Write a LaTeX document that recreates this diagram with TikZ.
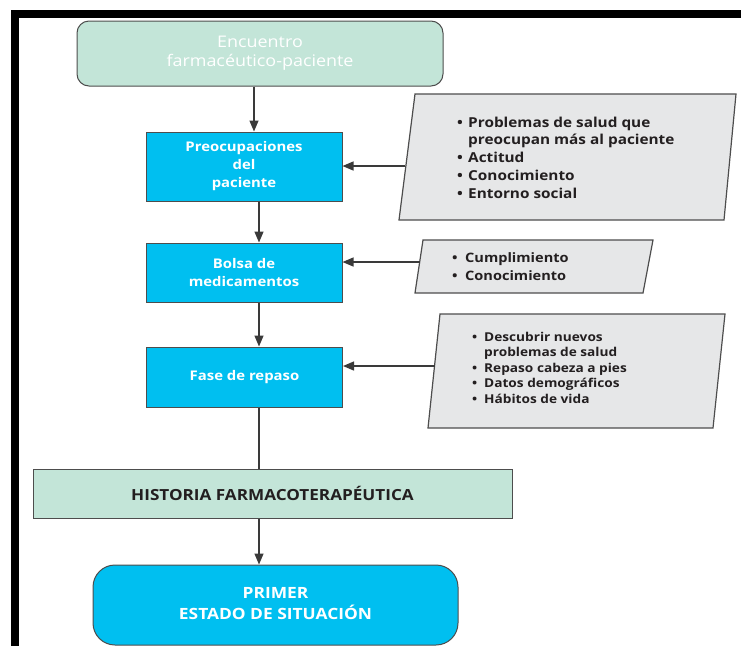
\documentclass[tikz,border=0pt]{standalone}
\usepackage{fontspec}
\setmainfont{Open Sans}[FakeStretch=1.12]
\usetikzlibrary{arrows.meta}
\definecolor{cyanfill}{HTML}{00BFF0}
\definecolor{greenfill}{HTML}{C3E5D8}
\definecolor{parafill}{HTML}{E6E7E8}
\definecolor{edgec}{HTML}{4D4D4D}
\definecolor{darktext}{HTML}{231F20}
\definecolor{arrowc}{HTML}{3A3A3A}
\newcommand{\bul}[1]{\makebox[#1][l]{\textbullet}}
\begin{document}
\begin{tikzpicture}[x=1pt,y=-1pt,
  procbox/.style={draw=edgec,line width=1pt,fill=cyanfill,text=white,inner sep=0pt,
    font=\bfseries\fontsize{13.3}{18}\selectfont,align=center,minimum width=196pt},
  greenround/.style={draw=edgec,line width=1pt,fill=greenfill,text=white,inner sep=0pt,
    rounded corners=12pt,font=\fontsize{16}{19}\selectfont,align=center},
  greenrect/.style={draw=edgec,line width=1pt,fill=greenfill,text=darktext,inner sep=0pt,
    font=\bfseries\fontsize{15.3}{19}\selectfont,align=center},
  cyanround/.style={draw=edgec,line width=1pt,fill=cyanfill,text=white,inner sep=0pt,
    rounded corners=22pt,font=\bfseries\fontsize{15.5}{20}\selectfont,align=center},
  para/.style={draw=edgec,line width=1.2pt,fill=parafill},
  listtext/.style={inner sep=0pt,anchor=base west,text=darktext},
  arr/.style={draw=arrowc,line width=1.3pt,-{Triangle[length=11pt,width=9pt]}},
  plain/.style={draw=arrowc,line width=1.3pt}]
\useasboundingbox (0,0) rectangle (741,646);
% frame
\fill[black] (11,10) rectangle (741,18);
\fill[black] (11,10) rectangle (19,646);
% main boxes
\node[greenround,minimum width=366pt,minimum height=65pt] (enc) at (260,53.5)
  {Encuentro\\farmacéutico-paciente};
\node[procbox,minimum height=69pt] (pre) at (244,166.5) {Preocupaciones\\del\\paciente};
\node[procbox,minimum height=59pt] (bol) at (244,272.5) {Bolsa de\\medicamentos};
\node[procbox,minimum height=60pt] (fas) at (244.5,377) {Fase de repaso};
\node[greenrect,minimum width=479pt,minimum height=49pt] (his) at (272.5,493.5)
  {HISTORIA FARMACOTERAPÉUTICA};
\node[cyanround,minimum width=365pt,minimum height=80pt] (pri) at (275.5,605)
  {\raisebox{-5pt}{\begin{tabular}{@{}c@{}}PRIMER\\ESTADO DE SITUACIÓN\end{tabular}}};
% parallelograms
\draw[para] (415,94) -- (736,94) -- (724,220) -- (399,220) -- cycle;
\draw[para] (423,240) -- (653,240) -- (643,293) -- (415,293) -- cycle;
\draw[para] (440,314) -- (725,314) -- (713,428) -- (428,428) -- cycle;
\node[listtext,font=\bfseries\fontsize{13.7}{17.8}\selectfont] (l1) at (457,127)
  {\begin{tabular}[t]{@{}l@{}l@{}}
   \bul{11pt} & Problemas de salud que\\
   & preocupan más al paciente\\
   \bul{11pt} & Actitud\\
   \bul{11pt} & Conocimiento\\
   \bul{11pt} & Entorno social
   \end{tabular}};
\node[listtext,font=\bfseries\fontsize{13}{18.3}\selectfont] (l2) at (452,262.5)
  {\begin{tabular}[t]{@{}l@{}l@{}}
   \bul{13pt} & Cumplimiento\\
   \bul{13pt} & Conocimiento
   \end{tabular}};
\node[listtext,font=\bfseries\fontsize{12.2}{15.4}\selectfont] (l3) at (472,341.5)
  {\begin{tabular}[t]{@{}l@{}l@{}}
   \bul{12pt} & Descubrir nuevos\\
   & problemas de salud\\
   \bul{12pt} & Repaso cabeza a pies\\
   \bul{12pt} & Datos demográficos\\
   \bul{12pt} & Hábitos de vida
   \end{tabular}};
% connector anchors
\coordinate (p1) at (405,166);
\coordinate (p2) at (419.5,262);
\coordinate (p3) at (434.5,366);
\coordinate (s1) at (254,0);
\coordinate (s2) at (259,0);
% connectors
\draw[arr] (enc.south -| s1) -- (pre.north -| s1);
\draw[arr] (pre.south -| s2) -- (bol.north -| s2);
\draw[arr] (bol.south -| s2) -- (fas.north -| s2);
\draw[plain] (fas.south -| s2) -- (his.north -| s2);
\draw[arr] (his.south -| s2) -- (pri.north -| s2);
\draw[arr] (p1) -- (pre.east |- p1);
\draw[arr] (p2) -- (bol.east |- p2);
\draw[arr] (p3) -- (fas.east |- p3);
\end{tikzpicture}
\end{document}
